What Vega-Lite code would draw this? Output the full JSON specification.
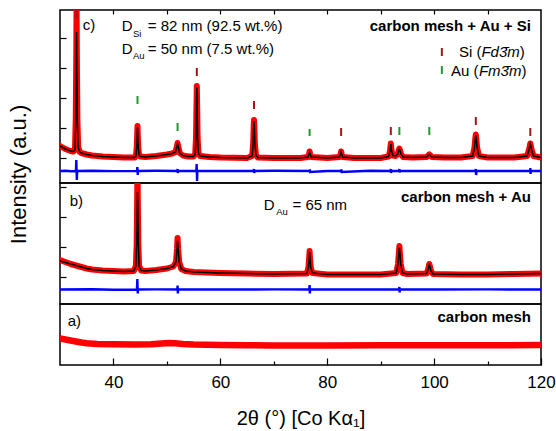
{
  "$schema": "https://vega.github.io/schema/vega-lite/v6.json",
  "autosize": {"type": "pad"},
  "padding": {"left": 6, "top": 8, "right": 5, "bottom": 5},
  "spacing": 0,
  "bounds": "flush",
  "config": {
    "view": {"stroke": "#000000", "strokeWidth": 1.5},
    "font": "Liberation Sans",
    "axis": {"grid": false, "domain": false, "tickColor": "#000000", "tickWidth": 1.2, "labelColor": "#000000", "titleColor": "#000000", "labelFont": "Liberation Sans", "titleFont": "Liberation Sans", "titleFontWeight": "normal"},
    "text": {"font": "Liberation Sans", "color": "#000000"}
  },
  "datasets": {
    "c_curve": [
      {"x":30,"y":37,"fit":37},{"x":30.5,"y":35.5,"fit":35.5},{"x":31,"y":34,"fit":34},{"x":31.5,"y":33,"fit":33},{"x":32,"y":32,"fit":32},{"x":32.5,"y":31.5,"fit":31.5},{"x":32.8,"y":33,"fit":33},{"x":32.95,"y":65,"fit":60},{"x":33.05,"y":130,"fit":110},{"x":33.1,"y":185,"fit":151},{"x":33.15,"y":130,"fit":110},{"x":33.25,"y":65,"fit":60},{"x":33.4,"y":36,"fit":36},{"x":33.7,"y":31,"fit":31},{"x":34,"y":30,"fit":30},{"x":35,"y":28.5,"fit":28.5},{"x":36,"y":27.5,"fit":27.5},{"x":38,"y":26.5,"fit":26.5},{"x":40,"y":26,"fit":26},{"x":42,"y":25.5,"fit":25.5},{"x":44,"y":25.5,"fit":25.5},{"x":44.2,"y":27,"fit":27},{"x":44.35,"y":35,"fit":35},{"x":44.45,"y":48,"fit":48},{"x":44.5,"y":57,"fit":56},{"x":44.55,"y":48,"fit":48},{"x":44.65,"y":35,"fit":35},{"x":44.8,"y":28,"fit":28},{"x":45,"y":26.5,"fit":26.5},{"x":46,"y":26,"fit":26},{"x":48,"y":27,"fit":27},{"x":50,"y":28.5,"fit":28.5},{"x":51,"y":29.5,"fit":29.5},{"x":51.6,"y":31,"fit":31},{"x":51.85,"y":36,"fit":36},{"x":52,"y":40,"fit":39},{"x":52.15,"y":36,"fit":36},{"x":52.4,"y":30,"fit":30},{"x":53,"y":27.5,"fit":27.5},{"x":54,"y":26.5,"fit":26.5},{"x":55,"y":26.5,"fit":26.5},{"x":55.3,"y":29,"fit":29},{"x":55.45,"y":45,"fit":45},{"x":55.55,"y":80,"fit":80},{"x":55.6,"y":97,"fit":96},{"x":55.65,"y":80,"fit":80},{"x":55.75,"y":45,"fit":45},{"x":55.9,"y":30,"fit":30},{"x":56.2,"y":27,"fit":27},{"x":58,"y":26,"fit":26},{"x":60,"y":25.5,"fit":25.5},{"x":65,"y":25,"fit":25},{"x":65.95,"y":27,"fit":27},{"x":66.15,"y":40,"fit":40},{"x":66.25,"y":58,"fit":58},{"x":66.3,"y":63,"fit":62},{"x":66.35,"y":58,"fit":58},{"x":66.45,"y":40,"fit":40},{"x":66.65,"y":28,"fit":28},{"x":67,"y":25.5,"fit":25.5},{"x":70,"y":25,"fit":25},{"x":75,"y":25,"fit":25},{"x":76.4,"y":26,"fit":26},{"x":76.6,"y":29,"fit":29},{"x":76.7,"y":31.5,"fit":31},{"x":76.8,"y":29,"fit":29},{"x":77,"y":26,"fit":26},{"x":80,"y":25,"fit":25},{"x":82.3,"y":26,"fit":26},{"x":82.5,"y":29,"fit":29},{"x":82.6,"y":31.5,"fit":31},{"x":82.7,"y":29,"fit":29},{"x":82.9,"y":26,"fit":26},{"x":85,"y":25,"fit":25},{"x":90,"y":25,"fit":25},{"x":91.5,"y":26.5,"fit":26.5},{"x":91.75,"y":32,"fit":32},{"x":91.9,"y":39.5,"fit":39},{"x":92.05,"y":32,"fit":32},{"x":92.3,"y":27.5,"fit":27.5},{"x":92.8,"y":27,"fit":27},{"x":93.2,"y":29,"fit":29},{"x":93.4,"y":33,"fit":33},{"x":93.5,"y":34.5,"fit":34},{"x":93.6,"y":33,"fit":33},{"x":93.8,"y":29,"fit":29},{"x":94.2,"y":26,"fit":26},{"x":96,"y":25.5,"fit":25.5},{"x":98.6,"y":26,"fit":26},{"x":98.9,"y":27.5,"fit":27.5},{"x":99.1,"y":28.5,"fit":28},{"x":99.3,"y":27.5,"fit":27.5},{"x":99.6,"y":26,"fit":26},{"x":102,"y":25.5,"fit":25.5},{"x":105,"y":25.5,"fit":25.5},{"x":107.2,"y":27,"fit":27},{"x":107.55,"y":35,"fit":35},{"x":107.7,"y":44,"fit":44},{"x":107.8,"y":48.5,"fit":48},{"x":107.9,"y":44,"fit":44},{"x":108.05,"y":35,"fit":35},{"x":108.4,"y":27,"fit":27},{"x":110,"y":25.5,"fit":25.5},{"x":115,"y":25.5,"fit":25.5},{"x":117.4,"y":27,"fit":27},{"x":117.75,"y":33,"fit":33},{"x":117.9,"y":37,"fit":37},{"x":118,"y":39.5,"fit":39},{"x":118.1,"y":37,"fit":37},{"x":118.25,"y":33,"fit":33},{"x":118.6,"y":27,"fit":27},{"x":120,"y":25.5,"fit":25.5}
    ],
    "c_diff": [
      {"x":30,"y":12},{"x":31,"y":12.3},{"x":32,"y":11.8},{"x":32.9,"y":12},{"x":33,"y":14},{"x":33.05,"y":23},{"x":33.15,"y":3},{"x":33.2,"y":10},{"x":33.3,"y":12},{"x":36,"y":12.2},{"x":40,"y":11.9},{"x":44.4,"y":12},{"x":44.47,"y":16},{"x":44.55,"y":8},{"x":44.6,"y":12},{"x":48,"y":12.2},{"x":51.95,"y":12},{"x":52,"y":14},{"x":52.05,"y":10},{"x":52.1,"y":12},{"x":55.5,"y":12},{"x":55.57,"y":19},{"x":55.65,"y":2},{"x":55.7,"y":12},{"x":60,"y":12},{"x":66.25,"y":12},{"x":66.3,"y":14},{"x":66.35,"y":10},{"x":66.4,"y":12},{"x":70,"y":12.2},{"x":76.7,"y":12},{"x":76.75,"y":13.5},{"x":76.8,"y":11},{"x":80,"y":12},{"x":82.6,"y":12},{"x":82.65,"y":13.5},{"x":82.7,"y":11},{"x":88,"y":12.2},{"x":91.85,"y":12},{"x":91.9,"y":14},{"x":91.95,"y":10},{"x":92,"y":12},{"x":93.45,"y":12},{"x":93.5,"y":14},{"x":93.55,"y":10.5},{"x":93.6,"y":12},{"x":100,"y":12},{"x":107.75,"y":12},{"x":107.8,"y":14},{"x":107.85,"y":8},{"x":107.95,"y":12},{"x":112,"y":12},{"x":117.95,"y":12},{"x":118,"y":15},{"x":118.05,"y":9},{"x":118.1,"y":12},{"x":120,"y":12}
    ],
    "c_ticks": [
      {"x":33.1,"y":164,"y2":173,"phase":"Si"},{"x":55.6,"y":107,"y2":115,"phase":"Si"},{"x":66.3,"y":74,"y2":82,"phase":"Si"},{"x":82.6,"y":47,"y2":55,"phase":"Si"},{"x":91.9,"y":48,"y2":56,"phase":"Si"},{"x":107.8,"y":58,"y2":66,"phase":"Si"},{"x":118,"y":47,"y2":55,"phase":"Si"},{"x":101.45,"y":127,"y2":135,"phase":"Si"},
      {"x":44.5,"y":79,"y2":87,"phase":"Au"},{"x":52,"y":52,"y2":60,"phase":"Au"},{"x":76.7,"y":47,"y2":54,"phase":"Au"},{"x":93.5,"y":48,"y2":56,"phase":"Au"},{"x":99.1,"y":48,"y2":56,"phase":"Au"},{"x":101.45,"y":109,"y2":117,"phase":"Au"}
    ],
    "c_text": [
      {"x":34.25,"y":158,"t":"c)"},{"x":41.55,"y":157,"t":"D"},{"x":46.42,"y":157,"t":"= 82 nm (92.5 wt.%)"},{"x":41.55,"y":134,"t":"D"},{"x":46.42,"y":134,"t":"= 50 nm (7.5 wt.%)"},{"x":104.64,"y":131,"t":"Si ("},{"x":103.14,"y":112,"t":"Au ("},{"x":116.02,"y":131,"t":")"},{"x":116.33,"y":112,"t":")"}
    ],
    "c_sub": [{"x":43.65,"y":149,"t":"Si"},{"x":43.65,"y":127,"t":"Au"}],
    "c_ital": [{"x":108.85,"y":131,"t":"Fd3̄m"},{"x":108.38,"y":112,"t":"Fm3̄m"}],
    "c_bold": [{"x":118.11,"y":157,"t":"carbon mesh + Au + Si"}],
    "b_curve": [
      {"x":30,"y":44,"fit":43},{"x":31,"y":42,"fit":41.5},{"x":32,"y":40,"fit":40},{"x":33,"y":38.5,"fit":38.5},{"x":34,"y":37,"fit":37},{"x":35,"y":35.5,"fit":35.5},{"x":36,"y":34.5,"fit":34.5},{"x":38,"y":33.5,"fit":33.5},{"x":40,"y":33,"fit":33},{"x":42,"y":32.5,"fit":32.5},{"x":43.8,"y":33,"fit":33},{"x":44.2,"y":38,"fit":38},{"x":44.35,"y":60,"fit":60},{"x":44.45,"y":110,"fit":100},{"x":44.5,"y":130,"fit":112},{"x":44.55,"y":110,"fit":100},{"x":44.65,"y":60,"fit":60},{"x":44.8,"y":38,"fit":38},{"x":45.2,"y":33.5,"fit":33.5},{"x":46,"y":33,"fit":33},{"x":48,"y":34,"fit":34},{"x":50,"y":35.5,"fit":35.5},{"x":51.2,"y":37.5,"fit":37.5},{"x":51.7,"y":42,"fit":42},{"x":51.9,"y":55,"fit":55},{"x":52,"y":66,"fit":63.5},{"x":52.1,"y":55,"fit":55},{"x":52.3,"y":42,"fit":42},{"x":52.7,"y":35,"fit":35},{"x":53.5,"y":33,"fit":33},{"x":55,"y":32,"fit":32},{"x":60,"y":31,"fit":31},{"x":65,"y":30.5,"fit":30.5},{"x":70,"y":30,"fit":30},{"x":76.2,"y":30.5,"fit":30.5},{"x":76.5,"y":37,"fit":37},{"x":76.65,"y":48,"fit":48},{"x":76.7,"y":53,"fit":52},{"x":76.75,"y":48,"fit":48},{"x":76.9,"y":37,"fit":37},{"x":77.2,"y":31,"fit":31},{"x":80,"y":29.5,"fit":29.5},{"x":85,"y":29.5,"fit":29.5},{"x":90,"y":29.5,"fit":29.5},{"x":92.9,"y":31,"fit":31},{"x":93.25,"y":40,"fit":40},{"x":93.42,"y":52,"fit":52},{"x":93.5,"y":58,"fit":57},{"x":93.58,"y":52,"fit":52},{"x":93.75,"y":40,"fit":40},{"x":94.1,"y":31,"fit":31},{"x":95,"y":30,"fit":30},{"x":98.6,"y":30.5,"fit":30.5},{"x":98.9,"y":35,"fit":35},{"x":99.05,"y":39,"fit":39},{"x":99.1,"y":40,"fit":39.5},{"x":99.2,"y":38,"fit":38},{"x":99.4,"y":33,"fit":33},{"x":99.8,"y":30,"fit":30},{"x":105,"y":29.5,"fit":29.5},{"x":110,"y":29.5,"fit":29.5},{"x":115,"y":30,"fit":30},{"x":120,"y":30.5,"fit":30.5}
    ],
    "b_diff": [
      {"x":30,"y":14.5},{"x":36,"y":14.7},{"x":40,"y":14.3},{"x":44.4,"y":14.5},{"x":44.47,"y":25},{"x":44.55,"y":10.5},{"x":44.6,"y":14.5},{"x":48,"y":14.6},{"x":51.95,"y":14.5},{"x":52,"y":18.5},{"x":52.05,"y":10.5},{"x":52.1,"y":14.5},{"x":60,"y":14.5},{"x":70,"y":14.6},{"x":76.65,"y":14.5},{"x":76.7,"y":19},{"x":76.75,"y":10.5},{"x":76.8,"y":14.5},{"x":85,"y":14.5},{"x":93.45,"y":14.5},{"x":93.5,"y":17},{"x":93.55,"y":11.5},{"x":93.6,"y":14.5},{"x":100,"y":14.5},{"x":110,"y":14.6},{"x":120,"y":14.5}
    ],
    "b_text": [{"x":31.82,"y":103.3,"t":"b)"},{"x":68.13,"y":99,"t":"D"},{"x":73.5,"y":99,"t":"= 65 nm"}],
    "b_sub": [{"x":70.45,"y":92,"t":"Au"}],
    "b_bold": [{"x":118.11,"y":106.7,"t":"carbon mesh + Au"}],
    "a_curve": [
      {"x":30,"y":26.5},{"x":31,"y":25.5},{"x":32,"y":24.5},{"x":33,"y":23.5},{"x":34,"y":22.5},{"x":35,"y":21.8},{"x":37,"y":21},{"x":40,"y":20.7},{"x":44,"y":20.5},{"x":47,"y":20.7},{"x":49,"y":21.5},{"x":50.4,"y":22},{"x":51.5,"y":21.8},{"x":53,"y":21},{"x":55,"y":20.5},{"x":60,"y":20},{"x":65,"y":19.7},{"x":70,"y":19.5},{"x":75,"y":19.4},{"x":80,"y":19.5},{"x":90,"y":19.7},{"x":100,"y":19.8},{"x":110,"y":19.8},{"x":120,"y":19.9}
    ],
    "a_text": [{"x":31.44,"y":44.3,"t":"a)"}],
    "a_bold": [{"x":118.11,"y":47.7,"t":"carbon mesh"}]
  },
  "vconcat": [
    {
      "width": 481,
      "height": 173,
      "encoding": {
        "x": {"field": "x", "type": "quantitative", "scale": {"domain": [30, 120], "nice": false, "zero": false},
              "axis": {"orient": "top", "values": [40, 50, 60, 70, 80, 90, 100, 110], "labels": false, "tickSize": -4, "title": null}},
        "y": {"field": "y", "type": "quantitative", "scale": {"domain": [0, 173], "nice": false, "zero": false},
              "axis": {"values": [25, 55, 85, 115, 145], "labels": false, "tickSize": -6, "title": null}}
      },
      "layer": [
        {"data": {"name": "c_curve"}, "mark": {"type": "line", "color": "#ff0000", "strokeWidth": 6, "clip": true, "strokeJoin": "round", "strokeCap": "round"}},
        {"data": {"name": "c_curve"}, "mark": {"type": "line", "color": "#000000", "strokeWidth": 1.5, "clip": true},
         "encoding": {"y": {"field": "fit", "type": "quantitative", "scale": {"domain": [0, 173], "nice": false, "zero": false},
              "axis": {"values": [25, 55, 85, 115, 145], "labels": false, "tickSize": -6, "title": null}}}},
        {"data": {"name": "c_diff"}, "mark": {"type": "line", "color": "#0000ff", "strokeWidth": 2.4, "clip": true}},
        {"data": {"name": "c_ticks"}, "mark": {"type": "rule", "strokeWidth": 2},
         "encoding": {"y2": {"field": "y2"}, "color": {"field": "phase", "type": "nominal", "scale": {"domain": ["Si", "Au"], "range": ["#a3161b", "#1f9a2a"]}, "legend": null}}},
        {"data": {"name": "c_text"}, "mark": {"type": "text", "align": "left", "baseline": "middle", "fontSize": 15}, "encoding": {"text": {"field": "t"}}},
        {"data": {"name": "c_sub"}, "mark": {"type": "text", "align": "left", "baseline": "middle", "fontSize": 9.5}, "encoding": {"text": {"field": "t"}}},
        {"data": {"name": "c_ital"}, "mark": {"type": "text", "align": "left", "baseline": "middle", "fontSize": 15, "fontStyle": "italic"}, "encoding": {"text": {"field": "t"}}},
        {"data": {"name": "c_bold"}, "mark": {"type": "text", "align": "right", "baseline": "middle", "fontSize": 15, "fontWeight": "bold"}, "encoding": {"text": {"field": "t"}}}
      ]
    },
    {
      "width": 481,
      "height": 121,
      "encoding": {
        "x": {"field": "x", "type": "quantitative", "scale": {"domain": [30, 120], "nice": false, "zero": false}, "axis": null},
        "y": {"field": "y", "type": "quantitative", "scale": {"domain": [0, 121], "nice": false, "zero": false},
              "axis": {"values": [27, 57, 87, 117], "labels": false, "tickSize": -6, "title": "Intensity (a.u.)", "titleFontSize": 22, "titleAngle": -90, "titleAlign": "center", "titleBaseline": "bottom", "titleX": -30, "titleY": -9}}
      },
      "layer": [
        {"data": {"name": "b_curve"}, "mark": {"type": "line", "color": "#ff0000", "strokeWidth": 6, "clip": true, "strokeJoin": "round", "strokeCap": "round"}},
        {"data": {"name": "b_curve"}, "mark": {"type": "line", "color": "#000000", "strokeWidth": 1.5, "clip": true},
         "encoding": {"y": {"field": "fit", "type": "quantitative", "scale": {"domain": [0, 121], "nice": false, "zero": false},
              "axis": {"values": [27, 57, 87, 117], "labels": false, "tickSize": -6, "title": "Intensity (a.u.)", "titleFontSize": 22, "titleAngle": -90, "titleAlign": "center", "titleBaseline": "bottom", "titleX": -30, "titleY": -9}}}},
        {"data": {"name": "b_diff"}, "mark": {"type": "line", "color": "#0000ff", "strokeWidth": 2.4, "clip": true}},
        {"data": {"name": "b_text"}, "mark": {"type": "text", "align": "left", "baseline": "middle", "fontSize": 15}, "encoding": {"text": {"field": "t"}}},
        {"data": {"name": "b_sub"}, "mark": {"type": "text", "align": "left", "baseline": "middle", "fontSize": 9.5}, "encoding": {"text": {"field": "t"}}},
        {"data": {"name": "b_bold"}, "mark": {"type": "text", "align": "right", "baseline": "middle", "fontSize": 15, "fontWeight": "bold"}, "encoding": {"text": {"field": "t"}}}
      ]
    },
    {
      "width": 481,
      "height": 61,
      "encoding": {
        "x": {"field": "x", "type": "quantitative", "scale": {"domain": [30, 120], "nice": false, "zero": false},
              "axis": {"orient": "bottom", "values": [40, 50, 60, 70, 80, 90, 100, 110, 120],
                       "labelExpr": "datum.value % 20 === 0 ? datum.label : ''",
                       "tickSize": {"condition": {"test": "datum.value % 20 === 0", "value": -7}, "value": -4},
                       "labelFontSize": 17, "labelFlush": false, "labelPadding": 16, "labelBaseline": "top",
                       "title": "2θ (°) [Co Kα₁]", "titleFontSize": 20, "titleBaseline": "alphabetic", "titleY": 59}},
        "y": {"field": "y", "type": "quantitative", "scale": {"domain": [0, 61], "nice": false, "zero": false}, "axis": null}
      },
      "layer": [
        {"data": {"name": "a_curve"}, "mark": {"type": "line", "color": "#ff0000", "strokeWidth": 6.5, "clip": true, "strokeJoin": "round", "strokeCap": "round"}},
        {"data": {"name": "a_text"}, "mark": {"type": "text", "align": "left", "baseline": "middle", "fontSize": 15}, "encoding": {"text": {"field": "t"}}},
        {"data": {"name": "a_bold"}, "mark": {"type": "text", "align": "right", "baseline": "middle", "fontSize": 15, "fontWeight": "bold"}, "encoding": {"text": {"field": "t"}}}
      ]
    }
  ]
}
